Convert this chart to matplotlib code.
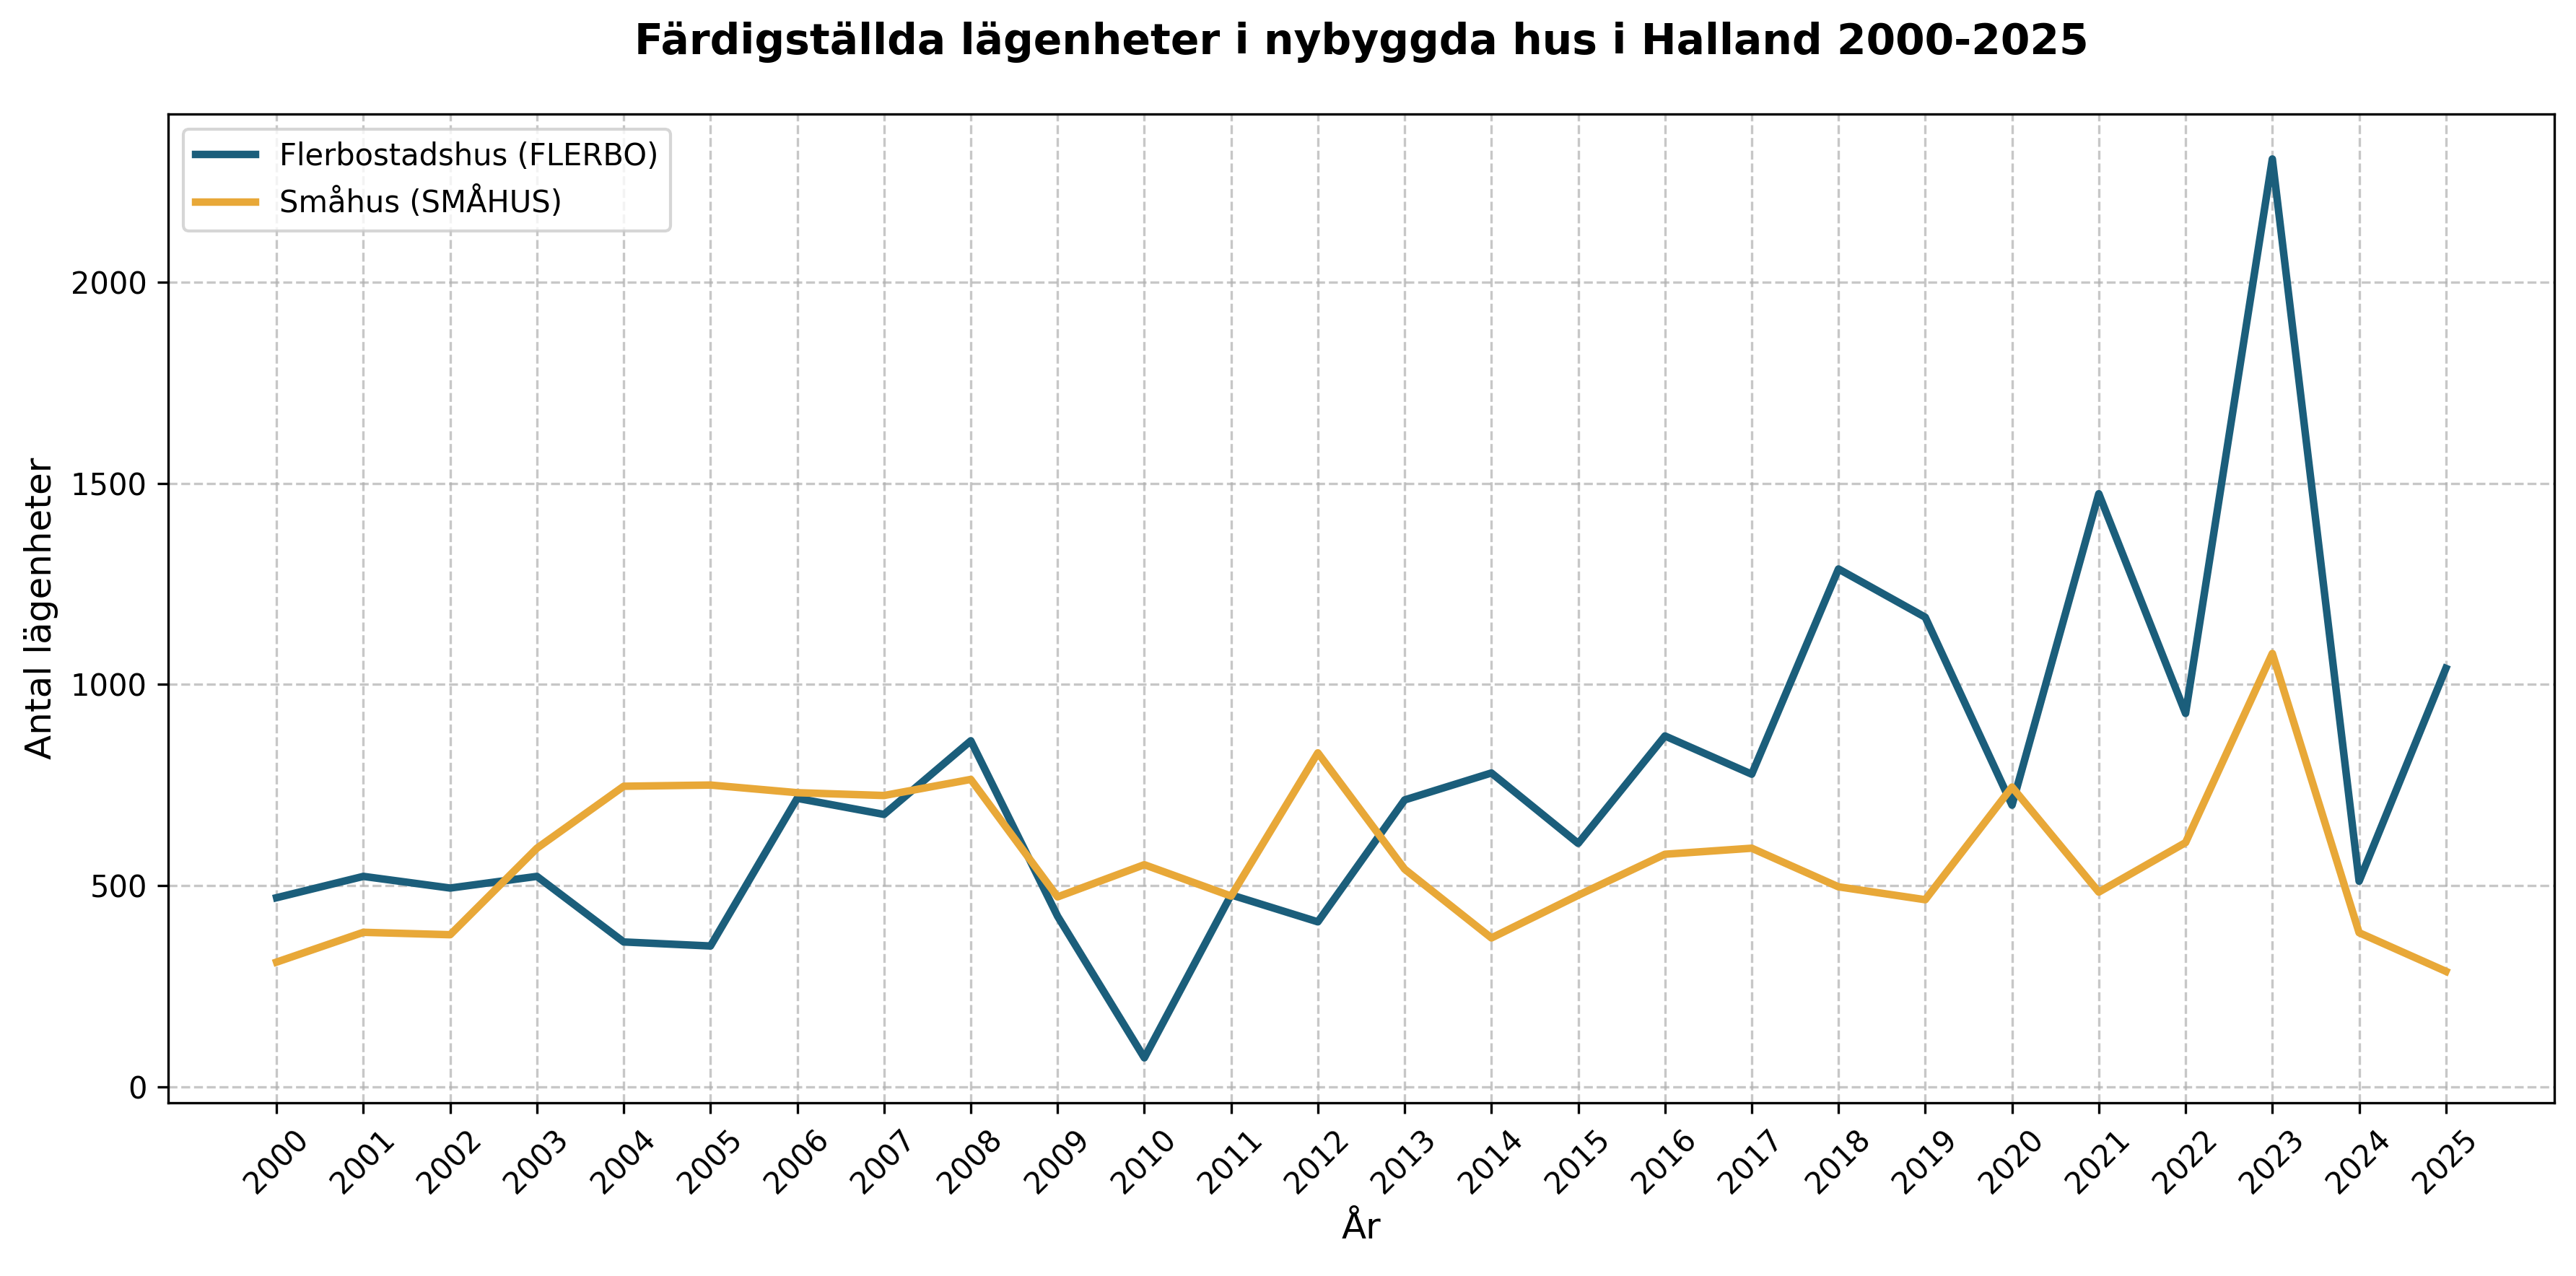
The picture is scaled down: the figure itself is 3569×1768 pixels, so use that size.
import numpy as np
import matplotlib
matplotlib.use('Agg')
import matplotlib.pyplot as plt

# Färdigställda lägenheter i nybyggda hus, Halland
years = list(range(2000, 2026))
flerbo = [470, 523, 494, 523, 360, 350, 717, 677, 860, 424,
          72, 477, 410, 713, 780, 605, 872, 777, 1287, 1167,
          700, 1474, 928, 2306, 511, 1040]
smahus = [310, 384, 378, 593, 747, 750, 731, 724, 764, 472,
          552, 474, 830, 541, 370, 476, 578, 593, 497, 465,
          745, 484, 607, 1077, 383, 287]

W, H = 3569, 1768
fig, ax = plt.subplots(figsize=(W / 300, H / 300), dpi=300)
fig.subplots_adjust(left=233 / W, right=3539 / W, top=1 - 158 / H, bottom=1 - 1528 / H)

ax.plot(years, flerbo, color='#1B5E7B', linewidth=2.5, label='Flerbostadshus (FLERBO)')
ax.plot(years, smahus, color='#E8A838', linewidth=2.5, label='Småhus (SMÅHUS)')

ax.set_title('Färdigställda lägenheter i nybyggda hus i Halland 2000-2025',
             fontsize=14, fontweight='bold', pad=20)
ax.set_xlabel('År', fontsize=12)
ax.set_ylabel('Antal lägenheter', fontsize=12)
ax.set_xticks(years)
ax.set_xticklabels([str(y) for y in years], rotation=45)
ax.grid(True, linestyle='--', alpha=0.7)
ax.legend(loc='upper left')

fig.savefig('out.png', dpi=300)
